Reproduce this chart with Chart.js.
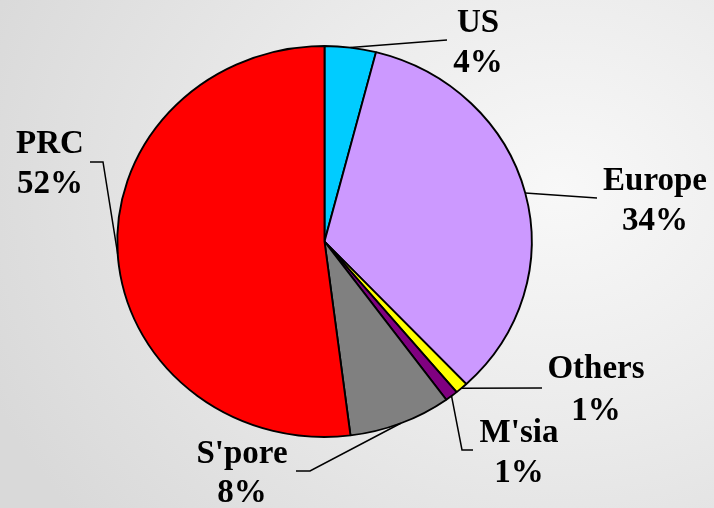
<!DOCTYPE html>
<html>
<head>
<meta charset="utf-8">
<script src="https://cdn.jsdelivr.net/npm/chart.js@4/dist/chart.umd.min.js"></script>
<style>
  html, body { margin: 0; padding: 0; }
  body {
    width: 714px; height: 508px; overflow: hidden;
    background: radial-gradient(ellipse 620px 520px at 560px 190px, #f8f8f8 0%, #ebebeb 45%, #d9d9d9 100%);
  }
  #wrap { position: relative; width: 714px; height: 508px; }
</style>
</head>
<body>
<div id="wrap"><canvas id="c" width="714" height="508"></canvas></div>
<script>
// Share of sales by region (%), clockwise from 12 o'clock
const regions = ['US', 'Europe', 'Others', "M'sia", "S'pore", 'PRC'];
const shares  = [4, 34, 1, 1, 8, 52];
const colours = ['#00CCFF', '#CC99FF', '#FFFF00', '#800080', '#808080', '#FF0000'];

// Label placement: text centre x, baselines of the two lines, leader line bend points
const labelLayout = [
  { cx: 478, base: [32, 72],   leader: [[447, 40]] },
  { cx: 655, base: [190, 230], leader: [[597, 198]] },
  { cx: 596, base: [378, 420], leader: [[542, 388]] },
  { cx: 519, base: [442, 482], leader: [[462, 450], [473, 450]] },
  { cx: 242, base: [463, 502], leader: [[310, 471], [296, 471]] },
  { cx: 50,  base: [153, 193], leader: [[103, 162], [90, 162]] }
];

// The pie is drawn slightly wider than tall
const SX = 1.06;

const stretchPie = {
  id: 'stretchPie',
  beforeDatasetsDraw(chart) {
    const a = chart.getDatasetMeta(0).data[0];
    const ctx = chart.ctx;
    ctx.save();
    ctx.translate(a.x, a.y);
    ctx.scale(SX, 1);
    ctx.translate(-a.x, -a.y);
  },
  afterDatasetsDraw(chart) {
    chart.ctx.restore();
  }
};

const sliceLabels = {
  id: 'sliceLabels',
  afterDraw(chart) {
    const ctx = chart.ctx;
    const meta = chart.getDatasetMeta(0);
    const values = chart.data.datasets[0].data;
    ctx.save();
    meta.data.forEach((arc, i) => {
      const p = arc.getProps(['x', 'y', 'startAngle', 'endAngle', 'outerRadius'], true);
      const mid = (p.startAngle + p.endAngle) / 2;
      const sx = p.x + SX * p.outerRadius * Math.cos(mid);
      const sy = p.y + p.outerRadius * Math.sin(mid);
      const lay = labelLayout[i];
      ctx.beginPath();
      ctx.moveTo(sx, sy);
      lay.leader.forEach(pt => ctx.lineTo(pt[0], pt[1]));
      ctx.strokeStyle = '#000';
      ctx.lineWidth = 1.5;
      ctx.stroke();

      ctx.fillStyle = '#000';
      ctx.font = 'bold 33px "Liberation Serif", "Times New Roman", serif';
      ctx.textAlign = 'center';
      ctx.textBaseline = 'alphabetic';
      ctx.fillText(chart.data.labels[i], lay.cx, lay.base[0]);
      ctx.fillText(values[i] + '%', lay.cx, lay.base[1]);
    });
    ctx.restore();
  }
};

new Chart(document.getElementById('c'), {
  type: 'pie',
  data: {
    labels: regions,
    datasets: [{
      data: shares,
      backgroundColor: colours,
      borderColor: '#000',
      borderWidth: 1.8,
      radius: 195.5,
      hoverOffset: 0
    }]
  },
  options: {
    responsive: false,
    animation: false,
    events: [],
    layout: { padding: { left: 0, right: 65, top: 0, bottom: 25 } },
    plugins: {
      legend: { display: false },
      tooltip: { enabled: false }
    }
  },
  plugins: [stretchPie, sliceLabels]
});
</script>
</body>
</html>
